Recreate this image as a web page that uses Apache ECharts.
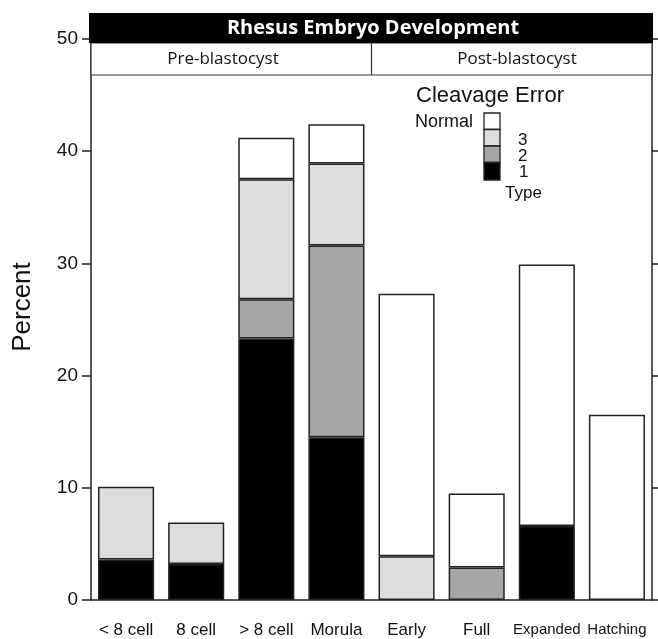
<!DOCTYPE html>
<html>
<head>
<meta charset="utf-8">
<script src="https://cdn.jsdelivr.net/npm/echarts@6/dist/echarts.min.js"></script>
<style>
html,body{margin:0;padding:0;background:#fff;}
#c{width:658px;height:639px;}
</style>
</head>
<body>
<div id="c"></div>
<script>
// ---- data (percent) ----
var categories = ['< 8 cell', '8 cell', '> 8 cell', 'Morula', 'Early', 'Full', 'Expanded', 'Hatching'];
var type1  = [3.6, 3.2, 23.3, 14.5, null, null, 6.6, null];
var type2  = [null, null, 3.5, 17.1, null, 2.9, null, null];
var type3  = [6.5, 3.7, 10.7, 7.3, 3.9, null, null, null];
var normal = [null, null, 3.7, 3.5, 23.4, 6.6, 23.3, 16.5];
var yTicks = [0, 10, 20, 30, 40, 50];
var groupLabels = ['Pre-blastocyst', 'Post-blastocyst'];
var chartTitle = 'Rhesus Embryo Development';

var FONT = '"Liberation Sans", Arial, sans-serif';
var chart = echarts.init(document.getElementById('c'));

function barSeries(name, data, color) {
  return {
    name: name, type: 'bar', stack: 'total', data: data,
    barWidth: '80%',
    itemStyle: { color: color, borderColor: '#222', borderWidth: 1.5 },
    emphasis: { disabled: true }
  };
}

var lx = 484, ly = 113, bh = 16.5;
var option = {
  animation: false,
  backgroundColor: '#fff',
  grid: { left: 91, right: 6, top: 39, bottom: 38, containLabel: false },
  xAxis: {
    type: 'category', data: categories,
    axisLine: { lineStyle: { color: '#222', width: 1.5 } },
    axisTick: { length: 9, lineStyle: { color: '#222', width: 1.5 } },
    axisLabel: {
      color: '#111', fontFamily: FONT, fontSize: 17, margin: 22, interval: 0,
      formatter: function (v) {
        if (v === 'Expanded' || v === 'Hatching') return '{s|' + v + '}';
        return v;
      },
      rich: { s: { fontSize: 15, fontFamily: FONT, color: '#111' } }
    }
  },
  yAxis: [{
    type: 'value', min: yTicks[0], max: yTicks[yTicks.length - 1], interval: 10,
    axisLine: { show: true, lineStyle: { color: '#222', width: 1.5 } },
    axisTick: { show: true, length: 9, lineStyle: { color: '#222', width: 1.5 } },
    axisLabel: { color: '#111', fontFamily: FONT, fontSize: 19, margin: 13 },
    splitLine: { show: false }
  }, {
    type: 'value', position: 'right', min: yTicks[0], max: yTicks[yTicks.length - 1], interval: 10,
    axisLine: { show: true, lineStyle: { color: '#222', width: 1.5 } },
    axisTick: { show: true, length: 7, lineStyle: { color: '#222', width: 1.5 } },
    axisLabel: { show: false },
    splitLine: { show: false }
  }],
  series: [
    barSeries('1', type1, '#000000'),
    barSeries('2', type2, '#a6a6a6'),
    barSeries('3', type3, '#dcdedd'),
    barSeries('Normal', normal, '#ffffff')
  ],
  graphic: [
    // y axis title
    { type: 'text', x: 23, y: 307, rotation: Math.PI / 2, z: 110,
      style: { text: 'Percent', fill: '#111', font: '26px ' + FONT,
               textAlign: 'center', textVerticalAlign: 'middle' } },
    // header strip
    { type: 'rect', shape: { x: 91, y: 43, width: 561, height: 32 },
      style: { fill: '#fff', stroke: '#333', lineWidth: 1.2 }, z: 100 },
    { type: 'line', shape: { x1: 371.5, y1: 43, x2: 371.5, y2: 75 },
      style: { stroke: '#333', lineWidth: 1.2 }, z: 101 },
    { type: 'rect', shape: { x: 89, y: 13, width: 564, height: 30 },
      style: { fill: '#000' }, z: 102 },
    { type: 'text', x: 373, y: 28, z: 103,
      style: { text: chartTitle, fill: '#fff', font: 'bold 20px "Open Sans", sans-serif',
               textAlign: 'center', textVerticalAlign: 'middle' } },
    { type: 'text', x: 223, y: 59, z: 103,
      style: { text: groupLabels[0], fill: '#111', font: '17px "Open Sans", sans-serif',
               textAlign: 'center', textVerticalAlign: 'middle' } },
    { type: 'text', x: 517, y: 59, z: 103,
      style: { text: groupLabels[1], fill: '#111', font: '17px "Open Sans", sans-serif',
               textAlign: 'center', textVerticalAlign: 'middle' } },
    // legend
    { type: 'text', x: 416, y: 96, z: 110,
      style: { text: 'Cleavage Error', fill: '#111', font: '22px ' + FONT,
               textAlign: 'left', textVerticalAlign: 'middle' } },
    { type: 'text', x: 415, y: 122, z: 110,
      style: { text: 'Normal', fill: '#111', font: '18px ' + FONT,
               textAlign: 'left', textVerticalAlign: 'middle' } },
    { type: 'rect', shape: { x: lx, y: ly, width: 16, height: bh }, z: 110,
      style: { fill: '#ffffff', stroke: '#222', lineWidth: 1.3 } },
    { type: 'rect', shape: { x: lx, y: ly + bh, width: 16, height: bh }, z: 110,
      style: { fill: '#dcdedd', stroke: '#222', lineWidth: 1.3 } },
    { type: 'rect', shape: { x: lx, y: ly + 2 * bh, width: 16, height: bh }, z: 110,
      style: { fill: '#a6a6a6', stroke: '#222', lineWidth: 1.3 } },
    { type: 'rect', shape: { x: lx, y: ly + 3 * bh, width: 16, height: bh + 1 }, z: 110,
      style: { fill: '#000000', stroke: '#222', lineWidth: 1.3 } },
    { type: 'text', x: 518, y: 140, z: 110,
      style: { text: '3', fill: '#111', font: '17px ' + FONT, textAlign: 'left', textVerticalAlign: 'middle' } },
    { type: 'text', x: 518, y: 156, z: 110,
      style: { text: '2', fill: '#111', font: '17px ' + FONT, textAlign: 'left', textVerticalAlign: 'middle' } },
    { type: 'text', x: 519, y: 172, z: 110,
      style: { text: '1', fill: '#111', font: '17px ' + FONT, textAlign: 'left', textVerticalAlign: 'middle' } },
    { type: 'text', x: 505, y: 193, z: 110,
      style: { text: 'Type', fill: '#111', font: '17px ' + FONT, textAlign: 'left', textVerticalAlign: 'middle' } }
  ]
};
chart.setOption(option);
</script>
</body>
</html>
